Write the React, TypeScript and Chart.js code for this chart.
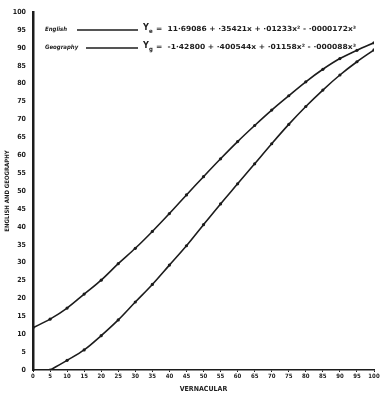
import React, { useEffect, useRef } from "react";
import { Chart, registerables } from "chart.js";

Chart.register(...registerables);

const xValues = [0, 5, 10, 15, 20, 25, 30, 35, 40, 45, 50, 55, 60, 65, 70, 75, 80, 85, 90, 95, 100];
const englishValues = [11.8, 14.2, 17.3, 21.2, 25.1, 29.7, 34.0, 38.7, 43.7, 48.9, 54.0, 59.0, 63.8, 68.3, 72.6, 76.6, 80.5, 84.0, 87.0, 89.3, 91.4];
const geographyX = [5, 10, 15, 20, 25, 30, 35, 40, 45, 50, 55, 60, 65, 70, 75, 80, 85, 90, 95, 100];
const geographyValues = [0, 2.7, 5.6, 9.6, 14.0, 19.0, 23.9, 29.3, 34.7, 40.6, 46.4, 52.0, 57.6, 63.2, 68.6, 73.6, 78.2, 82.4, 86.1, 89.4];
const legendNames = ["English", "Geography"];
const legendSubs = ["e", "g"];
const legendEquations = [
  "=  11·69086 + ·35421x + ·01233x² - ·0000172x³",
  "=  -1·42800 + ·400544x + ·01158x² - ·000088x³",
];
const xTitle = "VERNACULAR";
const yTitle = "ENGLISH AND GEOGRAPHY";

const INK = "#1c1c1c";
const FONT = "'DejaVu Sans Condensed', 'DejaVu Sans', sans-serif";

const legendPlugin = {
  id: "eqLegend",
  afterDraw(chart: any) {
    const ctx = chart.ctx as CanvasRenderingContext2D;
    const a = chart.chartArea;
    const rows = [
      { y: a.top + 17, nameX: a.left + 12, lineX0: a.left + 44, lineX1: a.left + 105 },
      { y: a.top + 35, nameX: a.left + 12, lineX0: a.left + 53, lineX1: a.left + 105 },
    ];
    ctx.save();
    rows.forEach((r, i) => {
      ctx.fillStyle = INK;
      ctx.strokeStyle = INK;
      ctx.textBaseline = "middle";
      ctx.font = `italic bold 6px ${FONT}`;
      ctx.fillText(legendNames[i], r.nameX, r.y);
      ctx.lineWidth = 1.5;
      ctx.beginPath();
      ctx.moveTo(r.lineX0, r.y + 1);
      ctx.lineTo(r.lineX1, r.y + 1);
      ctx.stroke();
      const yx = r.lineX1 + 5;
      ctx.font = `bold 9px ${FONT}`;
      ctx.fillText("Y", yx, r.y - 1);
      ctx.font = `bold 6px ${FONT}`;
      ctx.fillText(legendSubs[i], yx + 6, r.y + 2);
      ctx.font = `bold 7px ${FONT}`;
      const eq = legendEquations[i];
      const targetW = 200;
      const w = ctx.measureText(eq).width;
      const sx = targetW / w;
      ctx.save();
      ctx.translate(yx + 13, r.y);
      ctx.scale(sx, 1);
      ctx.fillText(eq, 0, 0);
      ctx.restore();
    });
    ctx.restore();
  },
};

export default function App() {
  const canvasRef = useRef<HTMLCanvasElement | null>(null);

  useEffect(() => {
    document.body.style.margin = "0";
    const canvas = canvasRef.current;
    if (!canvas) return;
    const chart = new Chart(canvas, {
      type: "line",
      data: {
        datasets: [
          {
            label: legendNames[0],
            data: xValues.map((x, i) => ({ x, y: englishValues[i] })),
            borderColor: INK,
            backgroundColor: INK,
            borderWidth: 1.6,
            pointRadius: 1.6,
            pointBorderWidth: 0,
            tension: 0.35,
            fill: false,
          },
          {
            label: legendNames[1],
            data: geographyX.map((x, i) => ({ x, y: geographyValues[i] })),
            borderColor: INK,
            backgroundColor: INK,
            borderWidth: 1.6,
            pointRadius: 1.6,
            pointBorderWidth: 0,
            tension: 0.35,
            fill: false,
          },
        ],
      },
      options: {
        animation: false,
        responsive: false,
        maintainAspectRatio: false,
        layout: { padding: { top: 12, right: 10, left: 4, bottom: 0 } },
        plugins: {
          legend: { display: false },
          tooltip: { enabled: false },
        },
        scales: {
          x: {
            type: "linear",
            min: 0,
            max: 100,
            afterFit: (s: any) => {
              s.height = 23;
            },
            ticks: {
              stepSize: 5,
              color: INK,
              padding: 1,
              maxRotation: 0,
              autoSkip: false,
              font: { family: FONT, size: 6, weight: "bold" },
            },
            grid: { drawOnChartArea: false, tickLength: 2, color: INK, lineWidth: 1 },
            border: { color: INK, width: 1.5 },
            title: {
              display: true,
              text: xTitle,
              color: INK,
              padding: { top: 0, bottom: 0 },
              font: { family: FONT, size: 7, weight: "bold" },
            },
          },
          y: {
            type: "linear",
            min: 0,
            max: 100,
            afterFit: (s: any) => {
              s.width = 29;
            },
            ticks: {
              stepSize: 5,
              color: INK,
              padding: 7,
              autoSkip: false,
              font: { family: FONT, size: 7, weight: "bold" },
            },
            grid: { drawOnChartArea: false, drawTicks: false, color: INK },
            border: { color: INK, width: 2.5 },
            title: {
              display: true,
              text: yTitle,
              color: INK,
              padding: { top: 0, bottom: 0 },
              font: { family: FONT, size: 6, weight: "bold" },
            },
          },
        },
      },
      plugins: [legendPlugin],
    } as any);
    return () => chart.destroy();
  }, []);

  return (
    <div style={{ width: 384, height: 393, background: "#fff" }}>
      <canvas ref={canvasRef} width={384} height={393} style={{ width: 384, height: 393, display: "block" }} />
    </div>
  );
}
